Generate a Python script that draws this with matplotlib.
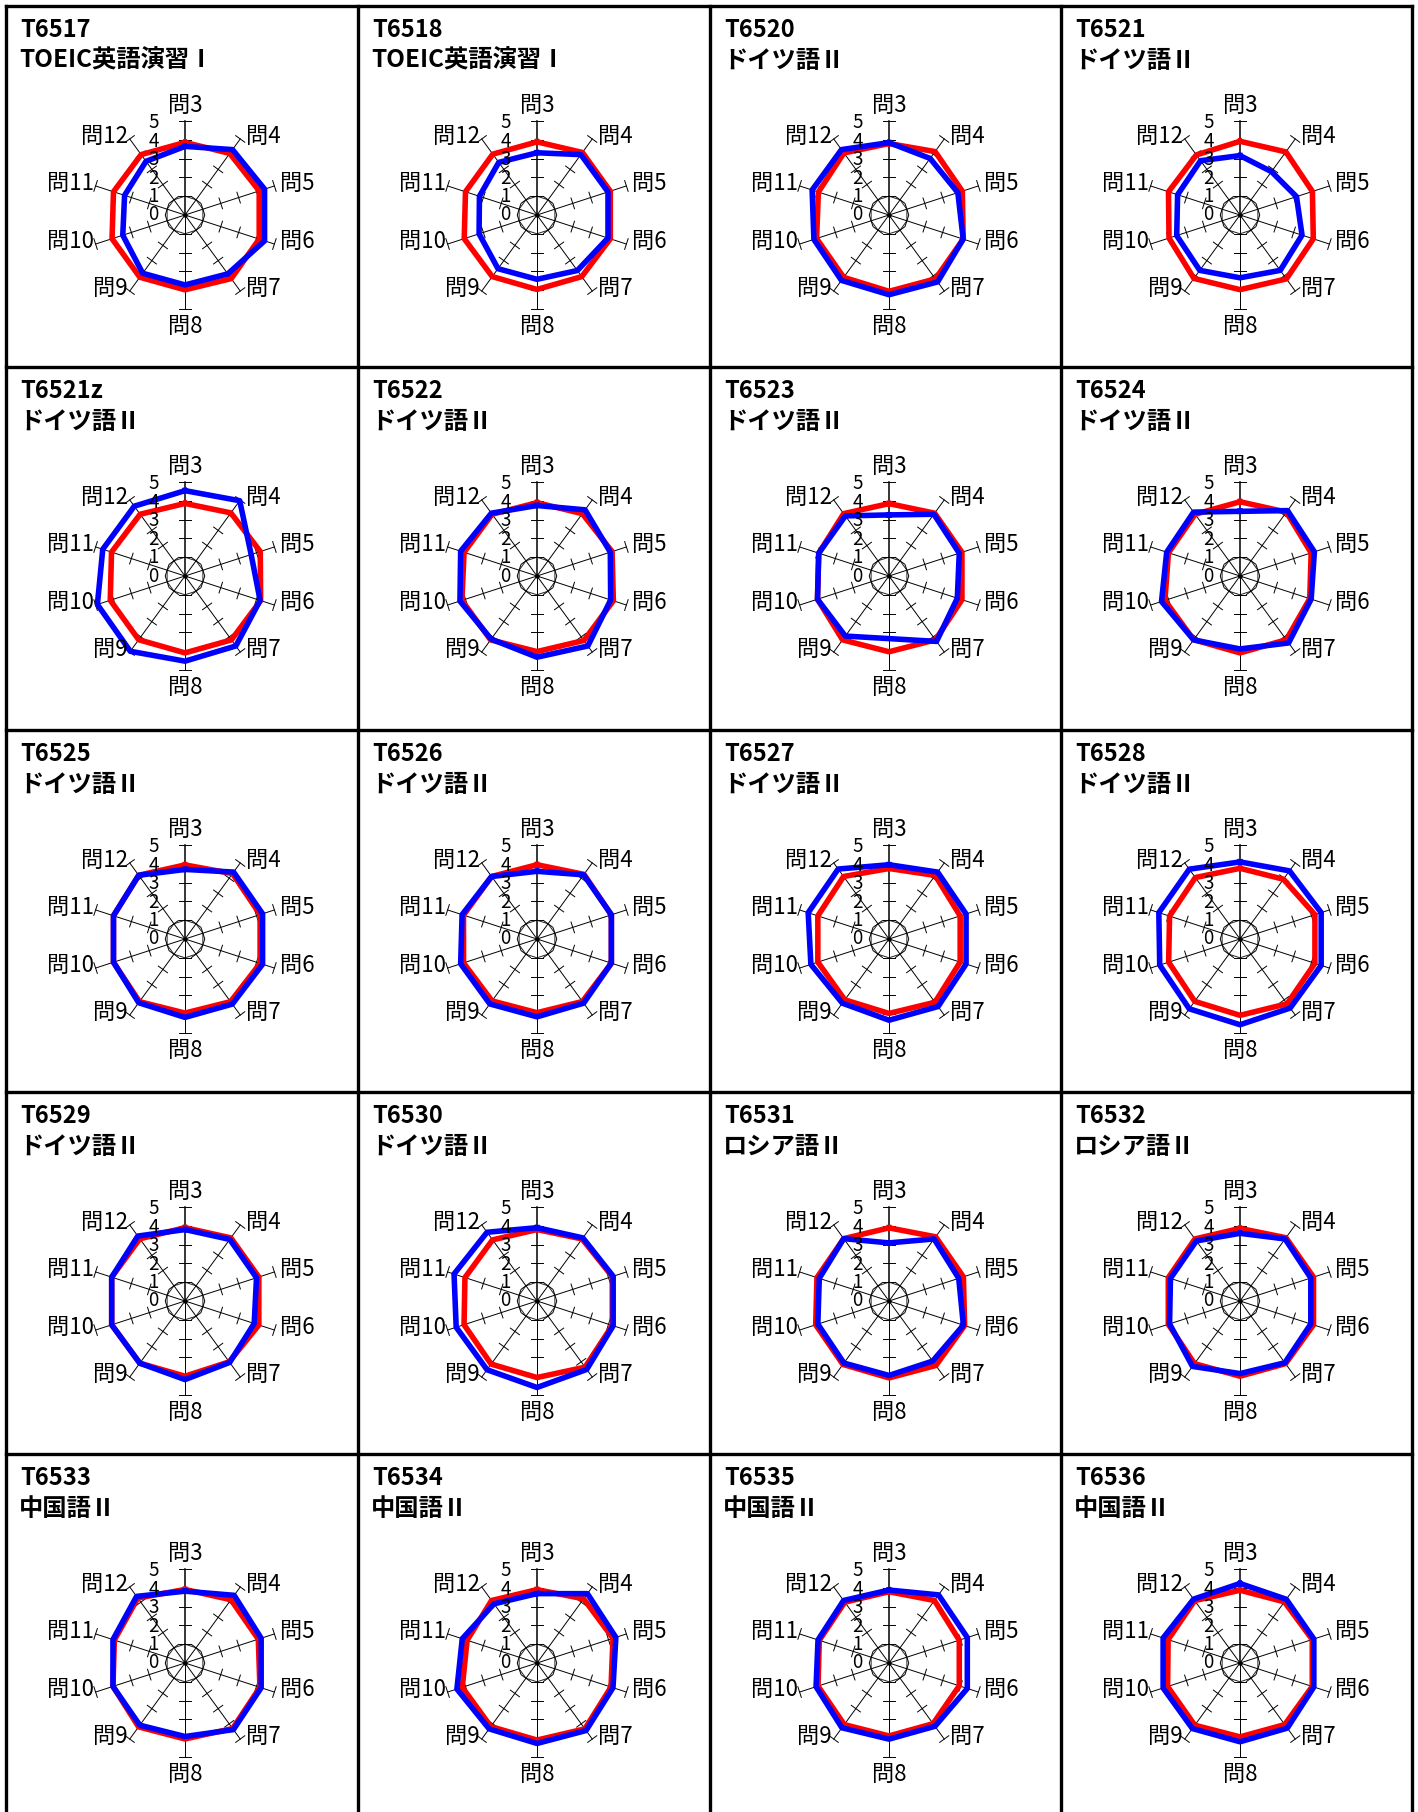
import numpy as np
import matplotlib
matplotlib.use('Agg')
import matplotlib.pyplot as plt

plt.rcParams['font.family'] = ['Noto Sans CJK JP', 'DejaVu Sans']

# ---------------- data ----------------
questions = ['問3', '問4', '問5', '問6', '問7', '問8', '問9', '問10', '問11', '問12']
scale_ticks = [0, 1, 2, 3, 4, 5]

codes = ['T6517', 'T6518', 'T6520', 'T6521',
         'T6521z', 'T6522', 'T6523', 'T6524',
         'T6525', 'T6526', 'T6527', 'T6528',
         'T6529', 'T6530', 'T6531', 'T6532',
         'T6533', 'T6534', 'T6535', 'T6536']
courses = ['TOEIC英語演習Ⅰ', 'TOEIC英語演習Ⅰ', 'ドイツ語Ⅱ', 'ドイツ語Ⅱ',
           'ドイツ語Ⅱ', 'ドイツ語Ⅱ', 'ドイツ語Ⅱ', 'ドイツ語Ⅱ',
           'ドイツ語Ⅱ', 'ドイツ語Ⅱ', 'ドイツ語Ⅱ', 'ドイツ語Ⅱ',
           'ドイツ語Ⅱ', 'ドイツ語Ⅱ', 'ロシア語Ⅱ', 'ロシア語Ⅱ',
           '中国語Ⅱ', '中国語Ⅱ', '中国語Ⅱ', '中国語Ⅱ']

t6517_red = [3.86, 4.05, 4.15, 4.15, 4.18, 3.98, 4.09, 4.08, 4.00, 3.97]
t6517_blue = [3.65, 4.30, 4.45, 4.45, 3.87, 3.72, 3.83, 3.48, 3.38, 3.53]
t6518_red = [3.89, 4.11, 4.10, 4.10, 4.05, 3.96, 4.05, 4.07, 4.00, 4.00]
t6518_blue = [3.31, 3.97, 3.97, 3.97, 3.65, 3.42, 3.53, 3.24, 3.22, 3.46]
t6520_red = [3.80, 4.17, 4.10, 4.15, 4.20, 4.06, 4.10, 4.05, 3.95, 4.08]
t6520_blue = [3.85, 3.72, 3.85, 4.15, 4.40, 4.24, 4.30, 4.20, 4.30, 4.30]
t6521_red = [3.92, 4.15, 4.05, 4.10, 4.20, 3.97, 4.17, 3.97, 4.00, 3.95]
t6521_blue = [3.16, 2.85, 3.16, 3.47, 3.64, 3.34, 3.64, 3.54, 3.49, 3.57]
t6521z_red = [3.86, 4.15, 4.21, 4.23, 4.20, 4.09, 4.19, 4.18, 4.11, 4.06]
t6521z_blue = [4.54, 4.95, 3.70, 4.20, 4.60, 4.53, 4.95, 4.90, 4.60, 4.59]
t6522_red = [3.90, 4.10, 4.20, 4.27, 4.24, 4.02, 4.20, 4.20, 4.08, 4.06]
t6522_blue = [3.75, 4.35, 4.10, 4.12, 4.60, 4.32, 4.15, 4.31, 4.27, 4.13]
t6523_red = [3.85, 4.13, 4.08, 4.08, 4.20, 4.03, 4.20, 4.00, 3.93, 4.10]
t6523_blue = [3.25, 4.06, 3.93, 3.82, 4.30, 3.33, 3.95, 4.00, 3.93, 3.95]
t6524_red = [3.95, 4.20, 3.98, 3.90, 4.19, 4.09, 4.19, 4.20, 4.00, 4.06]
t6524_blue = [3.44, 4.30, 4.16, 3.98, 4.40, 3.88, 4.20, 4.39, 4.10, 4.20]
t6525_red = [3.94, 4.30, 4.20, 4.20, 4.12, 3.94, 4.12, 4.00, 4.00, 4.19]
t6525_blue = [3.70, 4.40, 4.34, 4.34, 4.28, 4.17, 4.19, 4.00, 4.00, 4.19]
t6526_red = [3.95, 4.25, 4.16, 4.16, 4.11, 3.92, 4.07, 4.11, 4.11, 4.11]
t6526_blue = [3.60, 4.22, 4.16, 4.16, 4.22, 4.14, 4.27, 4.27, 4.19, 4.11]
t6527_red = [3.75, 4.18, 3.98, 3.98, 4.16, 3.96, 4.00, 3.98, 3.98, 4.11]
t6527_blue = [3.95, 4.40, 4.31, 4.31, 4.44, 4.32, 4.22, 4.37, 4.52, 4.60]
t6528_red = [3.76, 3.93, 4.19, 4.19, 4.26, 4.06, 4.10, 3.99, 3.94, 4.04]
t6528_blue = [4.10, 4.48, 4.54, 4.54, 4.54, 4.56, 4.59, 4.49, 4.54, 4.59]
t6529_red = [3.90, 4.15, 4.13, 4.13, 4.00, 4.00, 4.09, 4.10, 4.10, 4.09]
t6529_blue = [3.80, 4.05, 4.00, 3.87, 4.04, 4.18, 4.09, 4.10, 4.10, 4.27]
t6530_red = [3.80, 4.08, 4.21, 4.21, 4.35, 4.07, 4.15, 4.08, 4.03, 4.02]
t6530_blue = [3.90, 4.15, 4.26, 4.26, 4.50, 4.60, 4.52, 4.52, 4.64, 4.52]
t6531_red = [3.89, 4.22, 4.16, 4.23, 4.24, 4.09, 4.17, 4.10, 4.03, 4.10]
t6531_blue = [3.09, 4.08, 3.90, 4.16, 3.95, 3.96, 4.08, 3.98, 3.90, 4.10]
t6532_red = [3.86, 4.16, 4.11, 4.11, 4.12, 4.00, 4.12, 4.01, 4.01, 4.08]
t6532_blue = [3.60, 4.08, 3.96, 3.96, 4.06, 3.86, 4.30, 3.94, 3.89, 3.95]
t6533_red = [3.91, 4.16, 4.10, 4.19, 4.31, 4.04, 4.20, 4.03, 3.95, 4.27]
t6533_blue = [3.82, 4.45, 4.26, 4.26, 4.38, 3.91, 4.09, 4.03, 4.03, 4.38]
t6534_red = [3.90, 4.22, 4.25, 4.14, 4.33, 4.10, 4.18, 4.18, 3.91, 4.11]
t6534_blue = [3.69, 4.56, 4.41, 4.25, 4.44, 4.28, 4.33, 4.48, 4.18, 3.89]
t6535_red = [3.79, 4.11, 3.93, 3.93, 3.99, 3.88, 4.05, 3.97, 3.90, 4.00]
t6535_blue = [3.88, 4.48, 4.38, 4.38, 4.16, 4.05, 4.26, 4.08, 3.97, 4.11]
t6536_red = [3.87, 4.02, 4.04, 4.04, 4.05, 3.93, 4.09, 4.05, 4.02, 4.10]
t6536_blue = [4.23, 4.19, 4.13, 4.13, 4.28, 4.19, 4.31, 4.30, 4.30, 4.20]

red_series = [t6517_red, t6518_red, t6520_red, t6521_red,
              t6521z_red, t6522_red, t6523_red, t6524_red,
              t6525_red, t6526_red, t6527_red, t6528_red,
              t6529_red, t6530_red, t6531_red, t6532_red,
              t6533_red, t6534_red, t6535_red, t6536_red]
blue_series = [t6517_blue, t6518_blue, t6520_blue, t6521_blue,
               t6521z_blue, t6522_blue, t6523_blue, t6524_blue,
               t6525_blue, t6526_blue, t6527_blue, t6528_blue,
               t6529_blue, t6530_blue, t6531_blue, t6532_blue,
               t6533_blue, t6534_blue, t6535_blue, t6536_blue]

# ---------------- layout ----------------
W, H = 1418, 1812
fig = plt.figure(figsize=(W / 100, H / 100), dpi=100)
fig.patch.set_facecolor('white')

bg = fig.add_axes([0, 0, 1, 1])
bg.set_xlim(0, W)
bg.set_ylim(H, 0)
bg.axis('off')

col_x = [6, 358, 710, 1061, 1412]
row_y = [6, 367, 730, 1092, 1454]

for x in col_x:
    bg.plot([x, x], [row_y[0], H + 10], color='black', lw=2.4, solid_capstyle='projecting')
for y in row_y:
    bg.plot([col_x[0], col_x[-1]], [y, y], color='black', lw=2.4, solid_capstyle='projecting')

PX = 18.8          # pixels per value unit
L = 7.5            # half-range of radar axes in value units
size_px = 2 * L * PX
n = len(questions)
theta = np.pi / 2 - np.arange(n) * 2 * np.pi / n
cos_t, sin_t = np.cos(theta), np.sin(theta)
rmax = scale_ticks[-1]
LFS = 16
DFS = 13.5


def closed(arr):
    a = np.asarray(arr, dtype=float)
    return np.append(a, a[0])


for idx, code in enumerate(codes):
    r, c = divmod(idx, 4)
    x0, y0 = col_x[c], row_y[r]
    # titles
    bg.text(x0 + 14, y0 + 31, code, fontsize=17, fontweight='bold', ha='left', va='baseline')
    bg.text(x0 + 13, y0 + 62, courses[idx], fontsize=17.5, fontweight='bold', ha='left', va='baseline')

    cx, cy = x0 + 179, y0 + 209
    ax = fig.add_axes([(cx - size_px / 2) / W, 1 - (cy + size_px / 2) / H, size_px / W, size_px / H])
    ax.set_xlim(-L, L)
    ax.set_ylim(-L, L)
    ax.axis('off')

    # inner gridline at value 1
    ax.plot(closed(cos_t), closed(sin_t), color='#222222', lw=0.7)
    # spokes and ticks
    h = 0.3
    for i in range(n):
        ax.plot([0, rmax * cos_t[i]], [0, rmax * sin_t[i]], color='black',
                lw=1.1 if i == 0 else 0.7)
        px_, py_ = -sin_t[i], cos_t[i]
        for k in scale_ticks[1:]:
            bx, by = k * cos_t[i], k * sin_t[i]
            ax.plot([bx - h * px_, bx + h * px_], [by - h * py_, by + h * py_],
                    color='black', lw=0.7)
    ax.plot([0], [0], 'o', color='black', ms=2.2)

    # series
    rv = closed(red_series[idx])
    bv = closed(blue_series[idx])
    ax.plot(rv * closed(cos_t), rv * closed(sin_t), color='#ff0000', lw=4.0)
    ax.plot(bv * closed(cos_t), bv * closed(sin_t), color='#0000ff', lw=4.0)

    # value labels
    for k in scale_ticks:
        ax.text(-1.4, k * 0.98, str(k), fontsize=DFS, ha='right', va='center')

    # category labels
    for i, q in enumerate(questions):
        ex, ey = rmax * cos_t[i], rmax * sin_t[i]
        if i == 0:
            ax.text(ex, ey + 0.2, q, fontsize=LFS, ha='center', va='bottom')
        elif i == n // 2:
            ax.text(ex, ey - 0.3, q, fontsize=LFS, ha='center', va='top')
        elif i < n // 2:
            ax.text(ex + 0.3, ey + 0.15, q, fontsize=LFS, ha='left', va='center')
        else:
            ax.text(ex - 0.1, ey + 0.15, q, fontsize=LFS, ha='right', va='center')

fig.savefig('out.png', dpi=100, facecolor='white')
